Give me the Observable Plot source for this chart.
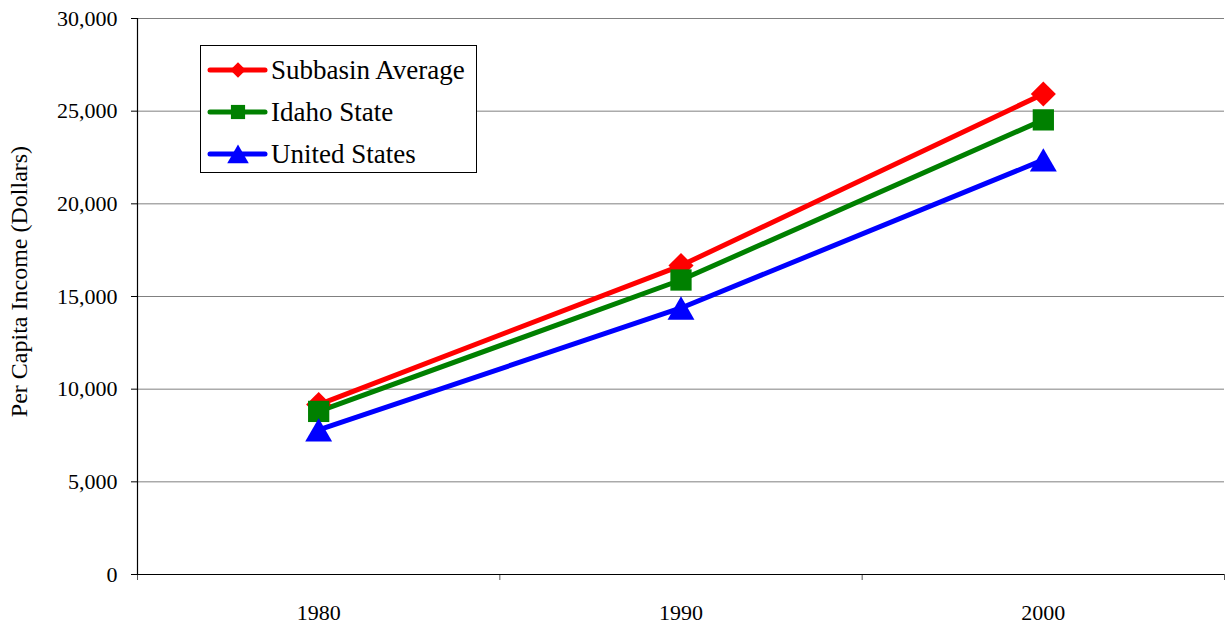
<!DOCTYPE html>
<html>
<head>
<meta charset="utf-8">
<script src="https://cdn.jsdelivr.net/npm/d3@7"></script>
<script src="https://cdn.jsdelivr.net/npm/@observablehq/plot@0.6"></script>
<style>
  html, body { margin: 0; padding: 0; background: #fff; font-family: 'Liberation Serif', 'Times New Roman', serif; }
</style>
</head>
<body>
<div id="wrap" style="position:relative;width:1225px;height:626px;font-family:'Liberation Serif', 'Times New Roman', serif"></div>
<script>
const years = [1980, 1990, 2000];
const boundaries = [1975, 1985, 1995, 2005];
const seriesNames = ["Subbasin Average", "Idaho State", "United States"];
const subbasin = [9170, 16670, 25930];
const idaho = [8800, 15890, 24530];
const unitedStates = [7800, 14380, 22370];
const colors = ["#FF0000", "#008000", "#0000FF"];
const symbols = ["diamond2", "square", "triangle"];
const yTicks = [0, 5000, 10000, 15000, 20000, 25000, 30000];
const yLabel = "Per Capita Income (Dollars)";

const seriesValues = [subbasin, idaho, unitedStates];
const rows = [];
seriesNames.forEach((s, i) => years.forEach((y, j) => rows.push({series: s, year: y, value: seriesValues[i][j]})));

const FONT = "'Liberation Serif', 'Times New Roman', serif";
const dotOpts = [
  {symbol: "diamond2", r: 11.3},
  {symbol: "square", r: 12},
  {symbol: "triangle", r: 10, dy: 3.9}
];

const chart = Plot.plot({
  width: 1225,
  height: 626,
  marginLeft: 137,
  marginRight: 1,
  marginTop: 18,
  marginBottom: 52,
  style: {fontFamily: FONT, fontSize: "22px", color: "#000", background: "#fff", overflow: "visible"},
  x: {domain: [1975, 2005]},
  y: {domain: [0, 30000]},
  color: {domain: seriesNames, range: colors},
  marks: [
    Plot.gridY({ticks: yTicks.slice(1), stroke: "#808080", strokeOpacity: 1, strokeWidth: 1}),
    Plot.axisY({ticks: yTicks, tickSize: 6, tickPadding: 14, tickFormat: d3.format(","), label: null, fontSize: 22, stroke: "#000"}),
    Plot.axisX({ticks: boundaries, tickSize: 6, tickFormat: () => "", label: null, stroke: "#555"}),
    Plot.axisX({ticks: years, tickSize: 0, tickPadding: 30, tickFormat: d => String(d), label: null, fontSize: 22}),
    Plot.ruleY([0], {stroke: "#000", strokeWidth: 1.2}),
    Plot.ruleX([1975], {stroke: "#000", strokeWidth: 1.2}),
    Plot.text([yLabel], {frameAnchor: "left", textAnchor: "middle", dx: -118, dy: -15, rotate: -90, fontSize: 24, fill: "#000"}),
    Plot.line(rows, {x: "year", y: "value", z: "series", stroke: "series", strokeWidth: 5, strokeLinejoin: "round"}),
    ...seriesNames.map((s, i) => Plot.dot(rows.filter(d => d.series === s), {x: "year", y: "value", fill: colors[i], stroke: "none", ...dotOpts[i]}))
  ]
});

const wrap = document.getElementById("wrap");
wrap.appendChild(chart);
d3.select(chart).selectAll("text").attr("font-family", FONT);

// legend
const legend = document.createElement("div");
legend.setAttribute("style", `position:absolute;left:200px;top:45px;width:275px;height:126px;border:1px solid #000;background:#fff;font-family:${FONT}`);
const paths = {
  "diamond2": d3.symbol(d3.symbolDiamond2, 11.3 * 11.3 * Math.PI)(),
  "square": d3.symbol(d3.symbolSquare, 8 * 8 * Math.PI)(),
  "triangle": d3.symbol(d3.symbolTriangle, 8 * 8 * Math.PI)()
};
seriesNames.forEach((s, i) => {
  const row = document.createElement("div");
  row.setAttribute("style", `position:absolute;left:6px;top:${3 + i * 42}px;height:42px;display:flex;align-items:center`);
  const sc = i === 0 ? 0.62 : 1;
  row.innerHTML = `<svg width="62" height="42" style="overflow:visible">
    <line x1="3" y1="21" x2="58" y2="21" stroke="${colors[i]}" stroke-width="5" stroke-linecap="round"/>
    <path transform="translate(31,${i === 2 ? 24 : 21}) scale(${sc})" d="${paths[symbols[i]]}" fill="${colors[i]}"/>
  </svg><span style="font-family:${FONT};font-size:27px;color:#000;margin-left:2px;white-space:nowrap">${s}</span>`;
  legend.appendChild(row);
});
wrap.appendChild(legend);
</script>
</body>
</html>
